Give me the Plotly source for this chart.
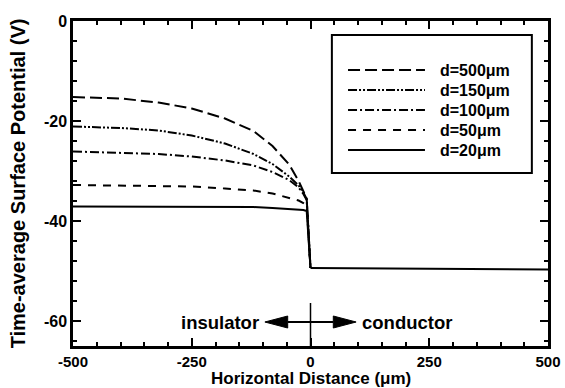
import plotly.graph_objects as go

# Horizontal positions (um) on the insulator side, ending at the interface x=0
x_ins = [-500, -400, -320, -250, -180, -120, -80, -45, -25, -15, -8, 0]

# Time-average surface potential (V) for each gap thickness d
v_d500 = [-15.2, -15.5, -16.3, -17.5, -19.5, -22.0, -25.0, -28.7, -32.0, -34.0, -35.5, -49.4]
v_d150 = [-21.1, -21.4, -21.9, -22.9, -24.5, -26.6, -28.6, -31.1, -32.9, -34.3, -35.6, -49.4]
v_d100 = [-26.1, -26.3, -26.6, -27.1, -27.9, -28.9, -30.2, -31.8, -33.3, -34.6, -35.8, -49.4]
v_d50 = [-32.8, -32.9, -33.0, -33.1, -33.5, -33.9, -34.5, -35.3, -35.9, -36.4, -36.9, -49.4]
v_d20 = [-37.1, -37.1, -37.1, -37.1, -37.2, -37.2, -37.4, -37.6, -37.7, -37.8, -38.0, -49.4]

# Conductor side (same for all d)
x_cond = [0, 500]
v_cond = [-49.4, -49.7]

labels = ["d=500\u03bcm", "d=150\u03bcm", "d=100\u03bcm", "d=50\u03bcm", "d=20\u03bcm"]
series = [v_d500, v_d150, v_d100, v_d50, v_d20]
dashes = ["12px,5px", "9px,2px,2px,2px,2px,2px", "9px,3px,2px,3px", "8px,7px", "solid"]

x_ticks = [-500, -250, 0, 250, 500]
y_ticks = [0, -20, -40, -60]

FONT = "Liberation Sans, Arial, sans-serif"
BOLD = dict(family=FONT, color="black", weight="bold")

fig = go.Figure()
for name, vals, dash in zip(labels, series, dashes):
    fig.add_trace(go.Scatter(
        x=x_ins, y=vals, mode="lines", name=name, showlegend=False,
        line=dict(color="black", width=2, dash=dash),
    ))
fig.add_trace(go.Scatter(
    x=x_cond, y=v_cond, mode="lines", showlegend=False,
    line=dict(color="black", width=2),
))

axis_common = dict(
    showline=True, linecolor="black", linewidth=2.5, mirror="allticks",
    ticks="inside", ticklen=8, tickwidth=2, tickcolor="black",
    showgrid=False, zeroline=False,
)

fig.update_xaxes(
    range=[-500, 500], tickvals=x_ticks,
    ticktext=["<b>%d</b>" % v for v in x_ticks],
    tickfont=dict(size=15, **BOLD),
    minor=dict(dtick=50, ticks="inside", ticklen=4, tickwidth=1.5, tickcolor="black"),
    **axis_common,
)
fig.update_yaxes(
    range=[-65, 0], tickvals=y_ticks,
    ticktext=["<b>%d</b>" % v for v in y_ticks],
    tickfont=dict(size=16, **BOLD),
    minor=dict(dtick=4, tick0=0, ticks="inside", ticklen=4, tickwidth=1.5, tickcolor="black"),
    title=dict(text="<b>Time-average Surface Potential (V)</b>", standoff=13,
               font=dict(size=20, **BOLD)),
    **axis_common,
)

# x-axis title pinned to the bottom edge of the figure
fig.add_annotation(xref="paper", yref="paper", x=0.5, y=-42 / 325, yanchor="bottom",
                   yshift=-2, text="<b>Horizontal Distance (\u03bcm)</b>", showarrow=False,
                   font=dict(size=17, **BOLD))

# Legend: framed box with long line samples
fig.add_shape(type="rect", xref="paper", yref="paper",
              x0=0.545, x1=0.966, y0=0.532, y1=0.957,
              line=dict(color="black", width=2), fillcolor="white", layer="below")
row_top, row_step = 0.849, 0.0615
for i, (name, dash) in enumerate(zip(labels, dashes)):
    ry = row_top - i * row_step
    fig.add_shape(type="line", xref="paper", yref="paper",
                  x0=0.579, x1=0.741, y0=ry, y1=ry,
                  line=dict(color="black", width=2, dash=dash))
    fig.add_annotation(xref="paper", yref="paper", x=0.768, y=ry, text="<b>%s</b>" % name,
                       showarrow=False, xanchor="left", yanchor="middle",
                       font=dict(size=16, **BOLD))

# Interface marker and region labels
fig.add_shape(type="line", xref="x", yref="y", x0=0, x1=0, y0=-56.4, y1=-65,
              line=dict(color="black", width=1.5))
fig.add_shape(type="line", xref="x", yref="y", x0=-48, x1=48, y0=-60.2, y1=-60.2,
              line=dict(color="black", width=2))
fig.add_shape(type="path", xref="x", yref="y",
              path="M -96,-60.2 L -48,-59.0 L -48,-61.4 Z",
              fillcolor="black", line=dict(color="black", width=1))
fig.add_shape(type="path", xref="x", yref="y",
              path="M 96,-60.2 L 48,-59.0 L 48,-61.4 Z",
              fillcolor="black", line=dict(color="black", width=1))
fig.add_annotation(x=-104, y=-60.2, xref="x", yref="y", text="<b>insulator</b>", showarrow=False,
                   xanchor="right", font=dict(size=18.5, **BOLD))
fig.add_annotation(x=104, y=-60.2, xref="x", yref="y", text="<b>conductor</b>", showarrow=False,
                   xanchor="left", font=dict(size=18.5, **BOLD))

fig.update_layout(
    width=565, height=388,
    margin=dict(l=73, r=17, t=21, b=42, autoexpand=False),
    paper_bgcolor="white", plot_bgcolor="white",
    showlegend=False,
)

fig.write_html("out.html")
